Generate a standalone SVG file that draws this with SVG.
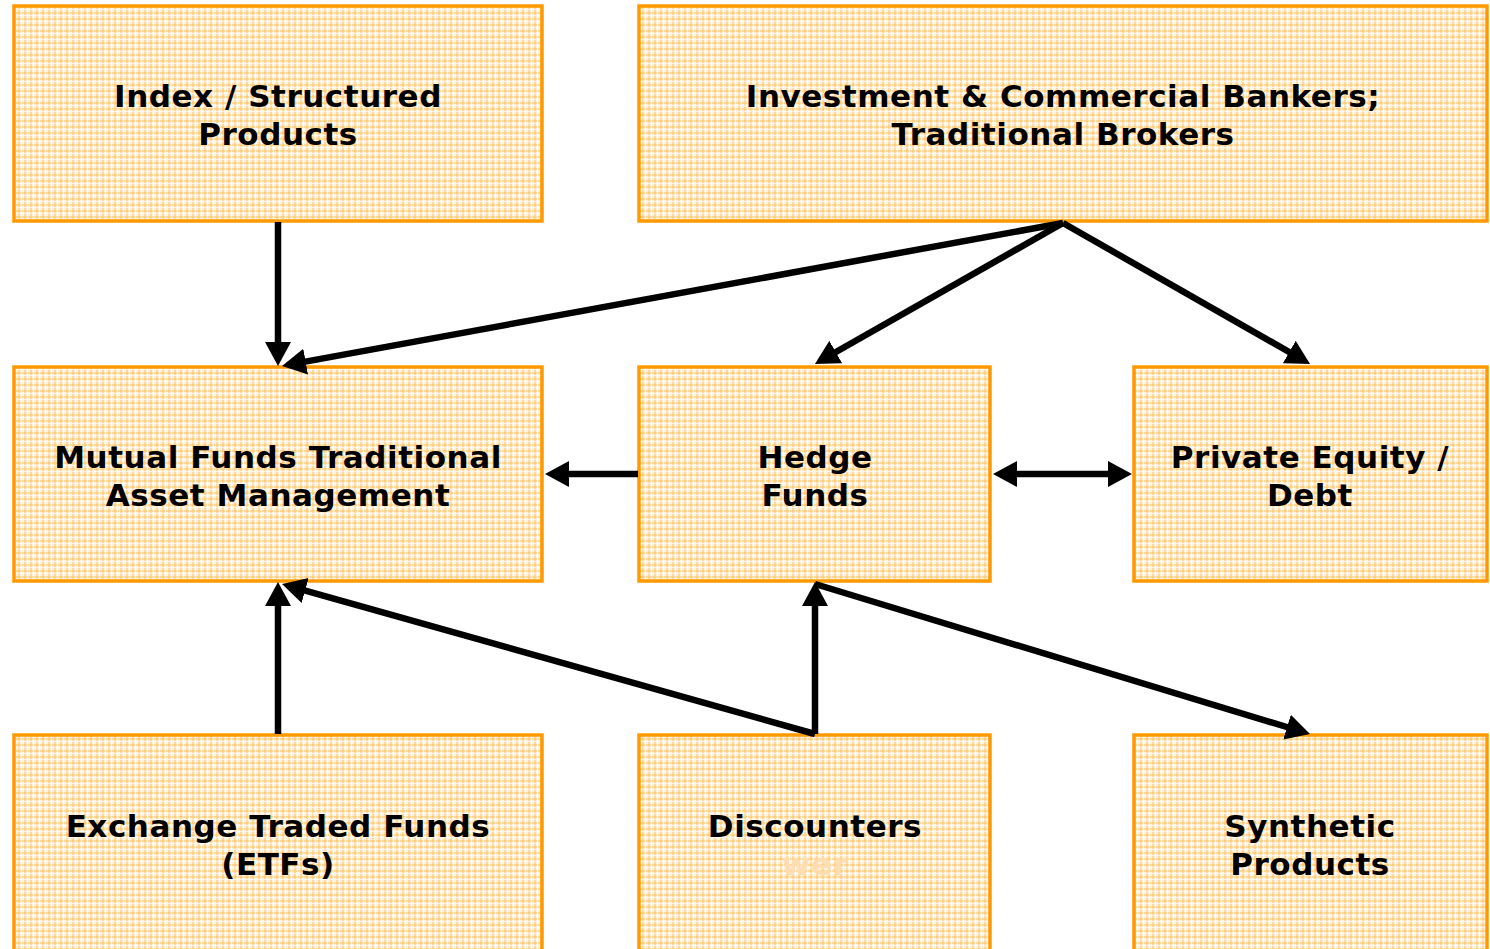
<svg xmlns="http://www.w3.org/2000/svg" width="1490" height="949" viewBox="0 0 1490 949">
<style>
.box{stroke:#FF9900;stroke-width:3.5;fill:url(#check)}
.t{font-family:"DejaVu Sans",Verdana,sans-serif;font-weight:bold;font-size:31px;letter-spacing:0.55px;fill:#000;text-anchor:middle}
.c{stroke:#000;stroke-width:6.5;fill:none}
</style>
<defs>
<pattern id="check" width="6" height="6" patternUnits="userSpaceOnUse">
<rect width="6" height="6" fill="#FFF3E0"/>
<rect x="0" y="0" width="2" height="6" fill="#FFC266" opacity="0.55"/>
<rect x="0" y="0" width="6" height="2" fill="#FFC266" opacity="0.55"/>
<rect x="3" y="0" width="1" height="6" fill="#FFFFFF" opacity="0.6"/>
<rect x="0" y="3" width="6" height="1" fill="#FFFFFF" opacity="0.6"/>
</pattern>
<marker id="ah" markerUnits="userSpaceOnUse" markerWidth="26" markerHeight="28" refX="10" refY="13" orient="auto-start-reverse" viewBox="0 0 26 26">
<path d="M0,0 L24,13 L0,26 z" fill="#000"/>
</marker>
</defs>
<rect width="1490" height="949" fill="#fff"/>
<g id="n1"><rect class="box" x="14" y="6" width="528" height="215"/><text class="t" x="278" y="107">Index / Structured</text><text class="t" x="278" y="145">Products</text></g>
<g id="n2"><rect class="box" x="639" y="6" width="848" height="215"/><text class="t" x="1063" y="107">Investment &amp; Commercial Bankers;</text><text class="t" x="1063" y="145">Traditional Brokers</text></g>
<g id="n3"><rect class="box" x="14" y="367" width="528" height="214"/><text class="t" x="278" y="468">Mutual Funds Traditional</text><text class="t" x="278" y="506">Asset Management</text></g>
<g id="n4"><rect class="box" x="639" y="367" width="351" height="214"/><text class="t" x="815" y="468">Hedge</text><text class="t" x="815" y="506">Funds</text></g>
<g id="n5"><rect class="box" x="1134" y="367" width="353" height="214"/><text class="t" x="1310" y="468">Private Equity /</text><text class="t" x="1310" y="506">Debt</text></g>
<g id="n6"><rect class="box" x="14" y="735" width="528" height="220"/><text class="t" x="278" y="837">Exchange Traded Funds</text><text class="t" x="278" y="875">(ETFs)</text></g>
<g id="n7"><rect class="box" x="639" y="735" width="351" height="220"/><text class="t" x="815" y="837">Discounters</text><text class="t" x="815" y="875" style="fill:#FFDDB0">wer</text></g>
<g id="n8"><rect class="box" x="1134" y="735" width="353" height="220"/><text class="t" x="1310" y="837">Synthetic</text><text class="t" x="1310" y="875">Products</text></g>
<g id="connectors">
<path class="c" marker-end="url(#ah)" d="M278,222 L278,352"/>
<path class="c" marker-end="url(#ah)" d="M1063,223 L295.8,363.4"/>
<path class="c" marker-end="url(#ah)" d="M1063,223 L827.1,357"/>
<path class="c" marker-end="url(#ah)" d="M1063,223 L1297.9,357"/>
<path class="c" marker-end="url(#ah)" d="M638,474 L559,474"/>
<path class="c" marker-start="url(#ah)" marker-end="url(#ah)" d="M1007,474 L1118,474"/>
<path class="c" marker-end="url(#ah)" d="M278,734 L278,596"/>
<path class="c" marker-end="url(#ah)" d="M815,734 L295.5,587.8"/>
<path class="c" marker-end="url(#ah)" d="M815,734 L815,596"/>
<path class="c" marker-end="url(#ah)" d="M815,584 L1296.6,730"/>
</g>
</svg>
